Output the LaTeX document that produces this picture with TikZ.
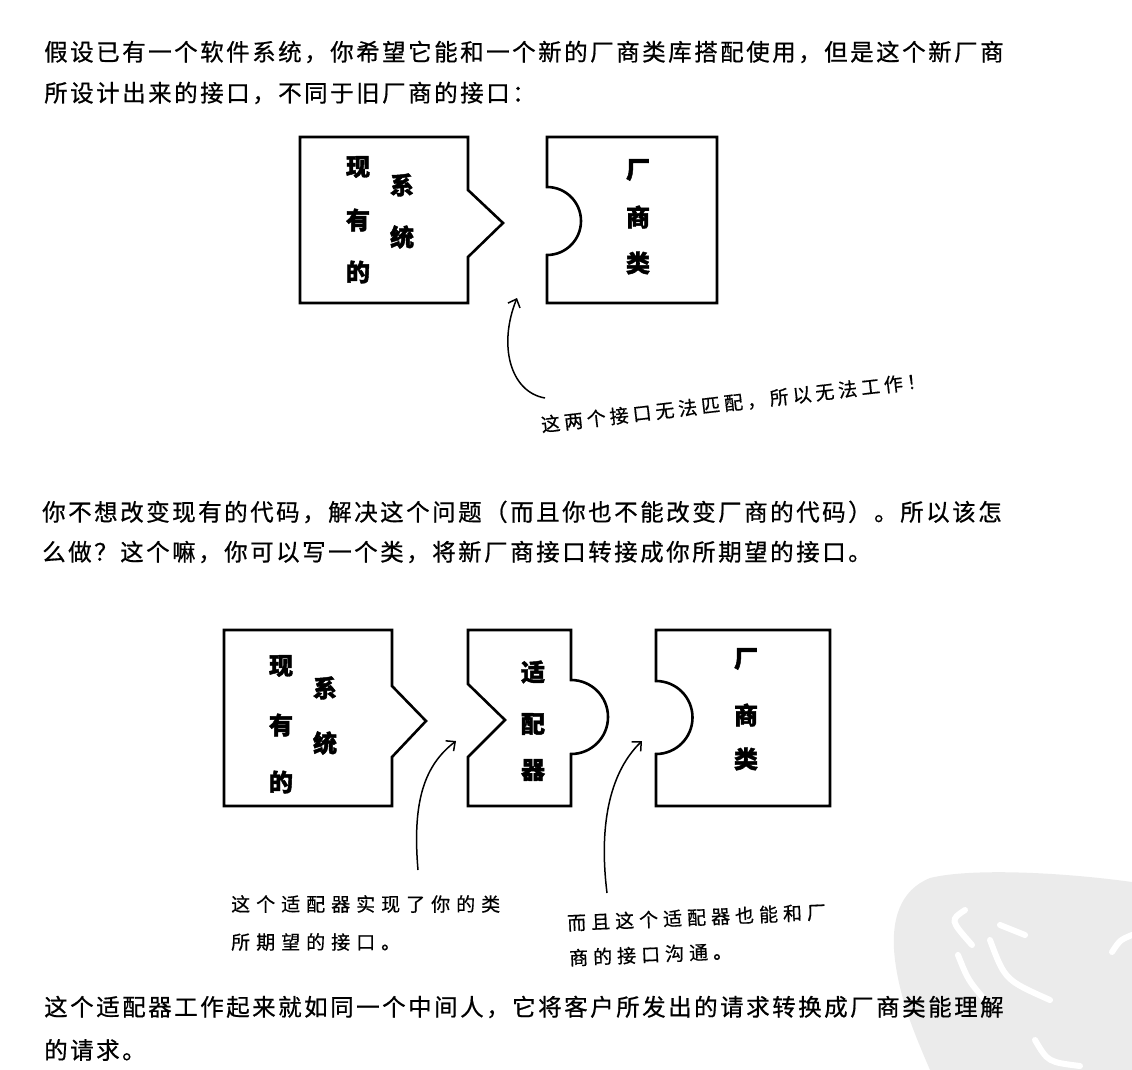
\documentclass[tikz,border=0pt]{standalone}
\usepackage{fontspec}
\newfontfamily\cjkhand[FakeBold=0.5]{Noto Sans CJK SC}
\newfontfamily\cjkbody[FakeBold=0.7]{Noto Sans CJK SC}
\newfontfamily\cjkheavy[BoldFeatures={FakeBold=1.8}]{Noto Sans CJK SC}
\usetikzlibrary{arrows.meta}
\makeatletter
\newcommand\pitched[2]{\@tfor\pt@c:=#2\do{\makebox[#1][l]{\pt@c}}}
\makeatother
\begin{document}
\begin{tikzpicture}[x=1pt,y=-1pt,
  body/.style={anchor=west, inner sep=0pt, font=\cjkbody\fontsize{23.5}{23.5}\selectfont},
  piece/.style={line width=2.6pt, line join=miter, fill=white},
  lbl/.style={inner sep=0pt, font=\cjkheavy\bfseries\fontsize{24}{24}\selectfont},
  hand/.style={anchor=west, inner sep=0pt, font=\cjkhand\fontsize{19}{19}\selectfont},
  pointer/.style={line width=1.5pt, -{Straight Barb[length=7pt,width=13pt]}},
  seal/.style={white, line width=6pt, line cap=round}]
\useasboundingbox (0,0) rectangle (1132,1070);
% watermark
\fill[black!8] (930,1070) .. controls (915,1035) and (900,1000) .. (895,960)
  .. controls (890,920) and (900,890) .. (930,878)
  .. controls (970,868) and (1060,872) .. (1132,882) -- (1132,1070) -- cycle;
\draw[seal] (965,910) .. controls (950,920) .. (972,945);
\draw[seal] (958,955) .. controls (968,980) .. (985,1000);
\draw[seal] (990,940) .. controls (1005,980) .. (1050,1000);
\draw[seal] (1000,925) -- (1025,935);
\draw[seal] (1112,952) .. controls (1120,940) .. (1132,935);
\draw[seal] (1035,1040) .. controls (1048,1062) .. (1080,1066);
% body text
\node[body] (p1a) at (44,52) {\pitched{26pt}{假设已有一个软件系统，你希望它能和一个新的厂商类库搭配使用，但是这个新厂商}};
\node[body] (p1b) at (44,93) {\pitched{26pt}{所设计出来的接口，不同于旧厂商的接口：}};
\node[body] (p2a) at (42,512) {\pitched{26pt}{你不想改变现有的代码，解决这个问题（而且你也不能改变厂商的代码）。所以该怎}};
\node[body] (p2b) at (42,552) {\pitched{26pt}{么做？这个嘛，你可以写一个类，将新厂商接口转接成你所期望的接口。}};
\node[body] (p3a) at (44,1007) {\pitched{26pt}{这个适配器工作起来就如同一个中间人，它将客户所发出的请求转换成厂商类能理解}};
\node[body] (p3b) at (44,1050) {\pitched{26pt}{的请求。}};
% top pieces
\draw[piece] (300,137) -- (468,137) -- (468,190) -- (503,223) -- (468,257) -- (468,303) -- (300,303) -- cycle;
\draw[piece] (547,137) -- (717,137) -- (717,303) -- (547,303) -- (547,255) arc[start angle=-90,end angle=90,radius=34pt] -- cycle;
\node[lbl] (a1) at (358,167) {现};
\node[lbl] (a2) at (358,220) {有};
\node[lbl] (a3) at (358,272) {的};
\node[lbl] (a4) at (402,185) {系};
\node[lbl] (a5) at (402,237) {统};
\node[lbl] (b1) at (638,170) {厂};
\node[lbl] (b2) at (638,217) {商};
\node[lbl] (b3) at (638,263) {类};
% top annotation
\node[hand, rotate=6.6] (n1) at (541,425) {\pitched{23pt}{这两个接口无法匹配，所以无法工作！}};
\coordinate (t1) at (517,298);
\coordinate (s1) at (545,398);
\draw[pointer] (s1) .. controls (510,392) and (498,345) .. (t1);
% bottom pieces
\draw[piece] (224,630) -- (392,630) -- (392,686) -- (426,721) -- (392,757) -- (392,806) -- (224,806) -- cycle;
\draw[piece] (468,630) -- (571,630) -- (571,680) arc[start angle=90,end angle=-90,radius=37pt] -- (571,806) -- (468,806) -- (468,757) -- (505,720) -- (468,684) -- cycle;
\draw[piece] (656,630) -- (830,630) -- (830,806) -- (656,806) -- (656,754) arc[start angle=-90,end angle=90,radius=36.5pt] -- cycle;
\node[lbl] (c1) at (281,666) {现};
\node[lbl] (c2) at (281,725) {有};
\node[lbl] (c3) at (281,782) {的};
\node[lbl] (c4) at (325,688) {系};
\node[lbl] (c5) at (325,743) {统};
\node[lbl] (d1) at (533,672) {适};
\node[lbl] (d2) at (533,724) {配};
\node[lbl] (d3) at (533,770) {器};
\node[lbl] (e1) at (746,659) {厂};
\node[lbl] (e2) at (746,715) {商};
\node[lbl] (e3) at (746,759) {类};
% bottom annotations
\node[hand] (n2a) at (231,904) {\pitched{25pt}{这个适配器实现了你的类}};
\node[hand] (n2b) at (231,942) {\pitched{25pt}{所期望的接口。}};
\node[hand, rotate=2.5] (n3a) at (567,923) {\pitched{24pt}{而且这个适配器也能和厂}};
\node[hand, rotate=2.5] (n3b) at (569,958) {\pitched{24pt}{商的接口沟通。}};
\coordinate (t2) at (456,741);
\coordinate (s2) at (418,870);
\draw[pointer] (s2) .. controls (412,800) and (425,765) .. (t2);
\coordinate (t3) at (642,741);
\coordinate (s3) at (607,893);
\draw[pointer] (s3) .. controls (598,820) and (612,770) .. (t3);
\end{tikzpicture}
\end{document}
